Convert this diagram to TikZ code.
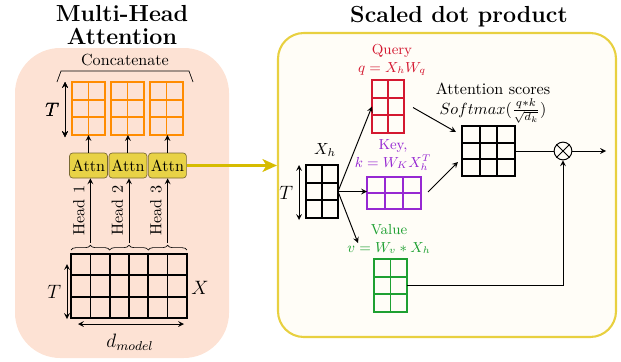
\documentclass[tikz,border=0pt]{standalone}
\usepackage{amsmath}
\usepackage{tikz}
\usepackage{xcolor}
\usetikzlibrary{positioning,calc,decorations.pathreplacing,arrows.meta}

\definecolor{peach}{RGB}{253,226,212}
\definecolor{cream}{RGB}{255,253,247}
\definecolor{frameyel}{RGB}{232,208,64}
\definecolor{attnfill}{RGB}{232,210,70}
\definecolor{attnedge}{RGB}{120,105,50}
\definecolor{arrowyel}{RGB}{214,188,0}
\definecolor{catorange}{RGB}{255,140,0}
\definecolor{qred}{RGB}{212,24,48}
\definecolor{kpurple}{RGB}{150,40,210}
\definecolor{vgreen}{RGB}{30,160,50}

% name, centre, cols, rows, cell w, cell h, colour
\newcommand{\cellmat}[7]{%
  \node[matn,draw=#7,minimum width={#3*#5*0.62pt},minimum height={#4*#6*0.62pt}] (#1) at (#2) {};
  \foreach \c in {1,...,#3}
    \draw[#7,line width=1.1pt] ($(#1.south west)+(\c*#5,0)$) -- ($(#1.north west)+(\c*#5,0)$);
  \foreach \r in {1,...,#4}
    \draw[#7,line width=1.1pt] ($(#1.south west)+(0,-\r*#6)$) -- ($(#1.south east)+(0,-\r*#6)$);
}

\begin{document}
\begin{tikzpicture}[x=0.62pt,y=-0.62pt,>=stealth]%
  \tikzstyle{matn}=[rectangle,line width=1.1pt,inner sep=0,outer sep=0]
  \tikzstyle{attnn}=[rectangle,draw=attnedge,fill=attnfill,rounded corners=2pt,inner sep=1.5pt,minimum width=23pt,minimum height=15.5pt]
  \tikzstyle{labn}=[align=center,font=\small]
  \tikzstyle{conn}=[line width=0.6pt]
  \tikzstyle{bracen}=[decorate,decoration={brace,amplitude=3pt}]
  \useasboundingbox (0,0) rectangle (621,362);
  \fill[peach,rounded corners=28pt] (15,48) rectangle (229,358);
  \node[draw=frameyel,fill=cream,line width=1.3pt,rounded corners=16pt,minimum width={338*0.62pt},minimum height={304*0.62pt}] (sdp) at (447,185) {};
  \node[font={\fontsize{14.4}{14.4}\selectfont\bfseries},align=center] (mhtitle) at (122,25) {Multi-Head\\Attention};
  \node[font=\Large\bfseries] (sdptitle) at (459,17) {Scaled dot product};
  % multi-head side
  \node (concat) at (125,60) {Concatenate};
  \draw (57,82) -- (61,71) -- (189,71) -- (193,82);
  \foreach \i/\x in {1/88.5,2/127.5,3/166.5}
    \cellmat{cat\i}{\x,108.5}{2}{3}{16.5}{17.7}{catorange}
  \draw[conn,<->] (65,82) -- node[left,font=\large]{$T$} (65,137);
  \node[attnn] (attn1) at (88.5,165.5) {Attn};
  \node[attnn,right=0.5pt of attn1] (attn2) {Attn};
  \node[attnn,right=0.5pt of attn2] (attn3) {Attn};
  \foreach \i in {1,2,3}
    \draw[conn,->] (attn\i.north) -- (attn\i.north |- cat\i.south);
  \cellmat{X}{129,286}{6}{3}{19.3}{21.3}{black}
  \foreach \i/\j in {0/1,1/2,2/3}
    \draw[bracen] ($(X.north west)!\i/3!(X.north east)+(0,-4)$) -- ($(X.north west)!\j/3!(X.north east)+(0,-4)$);
  \foreach \i in {1,2,3} {
    \coordinate (h\i) at ($(X.north west)!{(2*\i-1)/6}!(X.north east)+(0,-11)$);
    \draw[conn,->] (h\i) -- node[midway,above,sloped]{Head \i} (h\i |- attn\i.south);
  }
  \draw[conn,<->] (67,264) -- node[left,font=\large]{$T$} (67,319);
  \node[font=\large] (xlab) at (200,288) {$X$};
  \draw[conn,<->] (78,324) -- (184,324);
  \node[font=\large] (dmodel) at (130,342) {$d_{model}$};
  \draw[line width=1.3pt,arrowyel,-{Stealth[length=9pt,width=8pt,inset=2.5pt]}] (attn3.east) -- (attn3.east -| sdp.west);
  % scaled dot product side
  \cellmat{Xh}{322,191.5}{2}{3}{16}{17.7}{black}
  \node (xhlab) at (325,150) {$X_h$};
  \draw[conn,<->] (299,165) -- node[left,font=\large]{$T$} (299,220);
  \cellmat{Q}{388,106.5}{2}{3}{16}{17.7}{qred}
  \node[labn,text=qred] (qlab) at (392,60) {Query\\$q = X_hW_q$};
  \cellmat{K}{394,193}{3}{2}{18}{16}{kpurple}
  \node[labn,text=kpurple] (klab) at (393,155) {Key,\\$k = W_K X_h^T$};
  \cellmat{V}{390.5,285.5}{2}{3}{16.5}{17.7}{vgreen}
  \node[labn,text=vgreen] (vlab) at (389,239) {Value\\$v = W_v * X_h$};
  \cellmat{S}{488.5,151}{3}{3}{17.7}{16.7}{black}
  \node[align=center] (slab) at (493,103) {Attention scores\\$Softmax(\frac{q*k}{\sqrt{d_k}})$};
  \node[circle,draw,conn,minimum size=11pt,inner sep=0] (mul) at (563,151) {};
  \draw[conn] (mul.north west) -- (mul.south east) (mul.north east) -- (mul.south west);
  \coordinate (out) at (606,151);
  \coordinate (vin) at (358,243);
  \draw[conn,->] (Xh.east) -- (Q.west);
  \draw[conn,->] (Xh.east) -- (Xh.east -| K.west);
  \draw[conn,->] (Xh.east) -- (vin);
  \draw[conn,->] ($(Q.east)+(9,1)$) -- ($(S.west)+(-6,-19)$);
  \draw[conn,->] ($(K.east)+(7,-1)$) -- ($(S.west)+(-4,11)$);
  \draw[conn] (S.east) -- (mul.west);
  \draw[conn,->] (mul.east) -- (out);
  \draw[conn,->] (V.east) -| (mul.south);
\end{tikzpicture}
\end{document}
